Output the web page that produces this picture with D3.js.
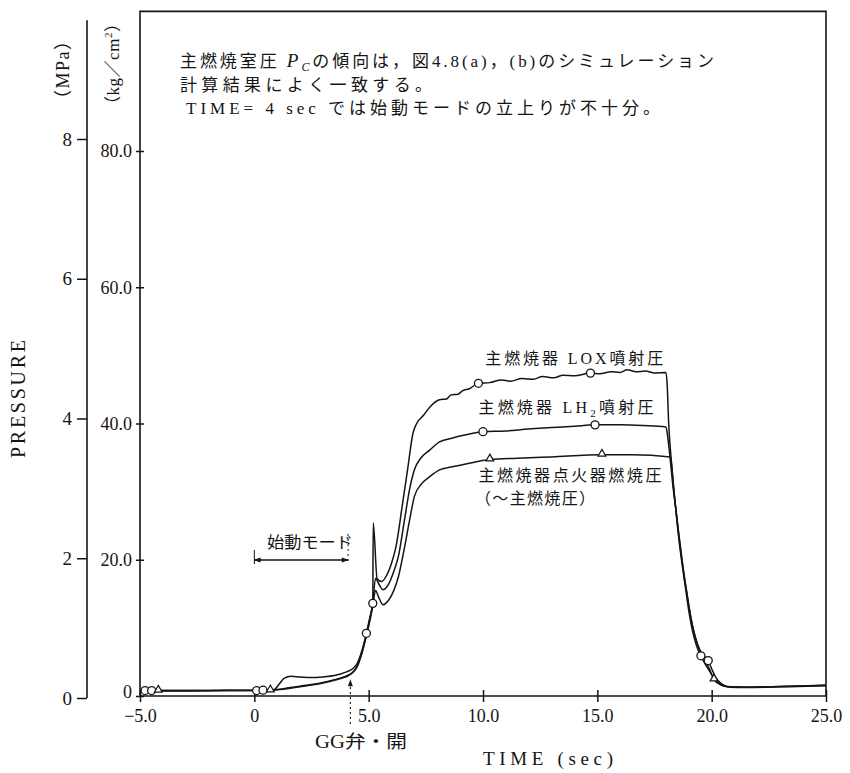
<!DOCTYPE html>
<html>
<head>
<meta charset="utf-8">
<script src="https://cdn.jsdelivr.net/npm/d3@7/dist/d3.min.js"></script>
<style>
  body { margin: 0; background: #fff; }
  svg text { font-family: "Liberation Serif", "Noto Sans CJK JP", serif; fill: #151515; }
</style>
</head>
<body>
<svg id="chart" width="850" height="773"></svg>
<script>
// ---- axis ticks ----
const timeTicks = [-5, 0, 5, 10, 15, 20, 25];
const timeTickLabels = ["\u22125.0", "0", "5.0", "10.0", "15.0", "20.0", "25.0"];
const kgTicks = [0, 20, 40, 60, 80];
const kgTickLabels = ["0", "20.0", "40.0", "60.0", "80.0"];
const mpaTicks = [0, 2, 4, 6, 8];
const mpaTickLabels = ["0", "2", "4", "6", "8"];

// ---- main combustor LOX injection pressure (kg/cm2) ----
const loxTime = [-5, -3, -1, 0, 0.7, 0.9, 1.1, 1.3, 1.6, 2.0, 2.5, 3.0, 3.5, 4.0, 4.3, 4.5, 4.7, 4.9, 5.05, 5.18,
  5.2, 5.37, 5.56, 5.8, 6.0, 6.2, 6.45, 6.7, 6.94, 7.1, 7.4, 7.67, 8.1, 8.4, 8.6, 8.9, 9.1, 9.4, 9.8,
  10.3, 10.8, 11.2, 11.7, 12.2, 12.6, 13.1, 13.5, 14.0, 14.7, 15.1, 15.6, 16.0, 16.3, 16.7, 17.1, 17.5, 18.0,
  18.05, 18.12, 18.25, 18.4, 18.55, 18.7, 18.85, 19.0, 19.2, 19.4, 19.53, 19.7, 19.9, 20.1, 20.3, 20.5, 20.8,
  21.5, 23.0, 24.5, 25.0];
const loxPressure = [0.8, 0.8, 0.8, 0.8, 0.8, 1.0, 1.8, 2.6, 2.9, 2.8, 2.7, 2.8, 3.0, 3.5, 4.0, 4.8, 6.6, 9.2, 11.5, 13.6,
  25.4, 17.2, 16.8, 17.8, 19.5, 22.0, 27.5, 33.2, 38.6, 40.0, 41.2, 42.4, 43.5, 43.6, 44.2, 44.3, 44.8, 45.1, 45.9,
  46.0, 46.4, 46.2, 46.6, 46.5, 46.9, 46.7, 47.1, 47.0, 47.4, 47.3, 47.6, 47.5, 47.9, 47.6, 47.7, 47.4, 47.5,
  46.0, 40.0, 34.0, 28.5, 23.5, 19.5, 16.0, 12.5, 9.0, 6.8, 5.9, 4.8, 3.7, 2.6, 1.9, 1.5, 1.35,
  1.3, 1.4, 1.55, 1.6];

// ---- main combustor LH2 injection pressure (kg/cm2) ----
const lh2Time = [-5, -3, -1, 0, 0.7, 1.0, 1.5, 2.0, 2.5, 3.0, 3.5, 4.0, 4.3, 4.5, 4.7, 4.9, 5.05, 5.18,
  5.3, 5.45, 5.63, 5.9, 6.1, 6.3, 6.55, 6.8, 7.0, 7.3, 7.67, 8.1, 8.6, 9.2, 10.0, 11.0, 12.0, 13.0, 14.0,
  14.9, 16.0, 17.0, 18.0,
  18.08, 18.18, 18.3, 18.45, 18.6, 18.75, 18.9, 19.05, 19.25, 19.45, 19.65, 19.85, 20.0, 20.15, 20.35, 20.55, 20.8,
  21.5, 23.0, 24.5, 25.0];
const lh2Pressure = [0.8, 0.8, 0.85, 0.85, 0.85, 0.95, 1.2, 1.45, 1.7, 2.0, 2.4, 2.9, 3.5, 4.4, 6.4, 9.0, 11.3, 13.6,
  17.3, 16.4, 15.6, 16.6, 18.3, 20.5, 25.5, 30.5, 33.2, 35.0, 36.1, 37.3, 37.8, 38.3, 38.8, 38.9, 39.2, 39.4, 39.6,
  39.8, 39.8, 39.7, 39.5,
  38.0, 35.0, 31.0, 27.0, 22.5, 18.8, 15.5, 12.3, 9.0, 7.0, 5.9, 5.2, 4.0, 2.9, 2.0, 1.55, 1.35,
  1.3, 1.4, 1.5, 1.55];

// ---- main combustor igniter combustion pressure (kg/cm2) ----
const ignTime = [-5, -3, -1, 0, 0.7, 1.0, 1.5, 2.0, 2.5, 3.0, 3.5, 4.0, 4.3, 4.5, 4.7, 4.9, 5.05, 5.18,
  5.3, 5.45, 5.63, 5.9, 6.1, 6.3, 6.55, 6.8, 7.0, 7.3, 7.67, 8.1, 8.6, 9.3, 10.3, 11.5, 13.0, 15.2, 16.5, 18.2,
  18.27, 18.35, 18.5, 18.65, 18.8, 18.95, 19.1, 19.3, 19.5, 19.7, 19.9, 20.1, 20.3, 20.55, 20.8,
  21.5, 23.0, 24.5, 25.0];
const ignPressure = [0.75, 0.75, 0.8, 0.8, 0.8, 0.9, 1.1, 1.35, 1.6, 1.9, 2.3, 2.8, 3.4, 4.3, 6.2, 8.8, 11.0, 13.2,
  15.5, 14.4, 13.4, 14.2, 15.5, 17.5, 21.5, 26.0, 29.3, 31.1, 32.2, 33.2, 33.6, 34.1, 34.7, 34.9, 35.1, 35.4, 35.4, 35.1,
  33.0, 30.0, 25.5, 21.5, 17.5, 14.3, 11.3, 8.5, 6.5, 5.2, 4.0, 2.4, 1.8, 1.45, 1.3,
  1.25, 1.35, 1.45, 1.5];

// ---- marker times on each trace ----
const loxMarkTimes = [-4.78, 0.1, 4.9, 9.8, 14.7, 19.53];
const lh2MarkTimes = [-4.49, 0.38, 5.18, 10.0, 14.9, 19.85];
const ignMarkTimes = [-4.2, 0.7, 10.3, 15.2, 20.1];

// ---- events ----
const startMode = [0, 4.1];
const ggValveTime = 4.2;

const svg = d3.select("#chart");
const ink = "#151515";

// scales: time, pressure in kg/cm2, pressure in MPa
const x = d3.scaleLinear().domain([-5, 25]).range([140, 826]);
const y = d3.scaleLinear().domain([0, 80]).range([696, 151]);
const yMpa = d3.scaleLinear().domain([0, 8]).range([698, 139]);
const frameTop = y(100.5);

// frame: kg axis line, top border, right border, time axis
svg.append("path")
  .attr("d", `M${x(-5)},${y(0)}V${frameTop}H${x(25)}V${y(0)}H${x(-5)}`)
  .attr("fill", "none").attr("stroke", ink).attr("stroke-width", 1.6);

// MPa axis line
svg.append("line")
  .attr("x1", 87).attr("x2", 87).attr("y1", yMpa(9.7)).attr("y2", yMpa(0))
  .attr("stroke", ink).attr("stroke-width", 1.6);

function styleAxis(g, size) {
  g.select(".domain").remove();
  g.selectAll("line").attr("stroke", ink).attr("stroke-width", 1.5);
  g.selectAll("text").attr("font-family", "Liberation Serif, serif")
    .attr("font-size", size).attr("fill", ink);
  g.attr("font-family", null).attr("font-size", null);
}

// time axis with crossing ticks
const gx = svg.append("g").attr("transform", `translate(0,${y(0)})`)
  .call(d3.axisBottom(x).tickValues(timeTicks)
    .tickFormat((d, i) => timeTickLabels[i]).tickSize(6).tickPadding(7));
gx.selectAll(".tick line").attr("y1", -6);
styleAxis(gx, 18);

// kg/cm2 axis with crossing ticks
const gy = svg.append("g").attr("transform", `translate(${x(-5)},0)`)
  .call(d3.axisLeft(y).tickValues(kgTicks)
    .tickFormat((d, i) => kgTickLabels[i]).tickSize(4).tickPadding(4));
gy.selectAll(".tick line").attr("x1", 4);
styleAxis(gy, 18);
// the zero label sits just above the time axis labels
gy.selectAll(".tick text").filter(d => d === 0).attr("dy", "0.1em");

// MPa axis, ticks to the left
const gm = svg.append("g").attr("transform", "translate(87,0)")
  .call(d3.axisLeft(yMpa).tickValues(mpaTicks)
    .tickFormat((d, i) => mpaTickLabels[i]).tickSize(10).tickPadding(5));
styleAxis(gm, 19);

// pressure traces
const series = [
  { t: loxTime, p: loxPressure, marks: loxMarkTimes, shape: "circle" },
  { t: lh2Time, p: lh2Pressure, marks: lh2MarkTimes, shape: "circle" },
  { t: ignTime, p: ignPressure, marks: ignMarkTimes, shape: "triangle" }
];

const line = d3.line().x(d => x(d[0])).y(d => y(d[1])).curve(d3.curveMonotoneX);

function valueAt(ts, ps, t) {
  const i = Math.min(Math.max(d3.bisectRight(ts, t), 1), ts.length - 1);
  const f = (t - ts[i - 1]) / (ts[i] - ts[i - 1]);
  return ps[i - 1] + f * (ps[i] - ps[i - 1]);
}

series.forEach(s => {
  svg.append("path")
    .datum(s.t.map((t, i) => [t, s.p[i]]))
    .attr("d", line)
    .attr("fill", "none").attr("stroke", ink).attr("stroke-width", 1.5)
    .attr("stroke-linejoin", "round");
});

series.forEach(s => {
  const pts = s.marks.map(t => [t, valueAt(s.t, s.p, t)]);
  if (s.shape === "circle") {
    svg.selectAll(null).data(pts).enter().append("circle")
      .attr("cx", d => x(d[0])).attr("cy", d => y(d[1])).attr("r", 4)
      .attr("fill", "#fff").attr("stroke", ink).attr("stroke-width", 1.3);
  } else {
    svg.selectAll(null).data(pts).enter().append("path")
      .attr("d", d3.symbol().type(d3.symbolTriangle).size(26))
      .attr("transform", d => `translate(${x(d[0])},${y(d[1]) - 1})`)
      .attr("fill", "#fff").attr("stroke", ink).attr("stroke-width", 1.2);
  }
});

// arrowheads
const defs = svg.append("defs");
defs.append("marker").attr("id", "arr").attr("viewBox", "0 0 10 10")
  .attr("refX", 9).attr("refY", 5).attr("markerWidth", 9).attr("markerHeight", 7)
  .attr("markerUnits", "userSpaceOnUse").attr("orient", "auto-start-reverse")
  .append("path").attr("d", "M0,1.5L10,5L0,8.5Z").attr("fill", ink);

// start-mode span
const smY = 560;
svg.append("line")
  .attr("x1", x(startMode[0])).attr("x2", x(startMode[1]))
  .attr("y1", smY).attr("y2", smY)
  .attr("stroke", ink).attr("stroke-width", 1.3)
  .attr("marker-start", "url(#arr)").attr("marker-end", "url(#arr)");
svg.append("line")
  .attr("x1", x(startMode[0])).attr("x2", x(startMode[0]))
  .attr("y1", smY - 10).attr("y2", smY + 4)
  .attr("stroke", ink).attr("stroke-width", 1);
svg.append("line")
  .attr("x1", x(startMode[1])).attr("x2", x(startMode[1]))
  .attr("y1", smY - 26).attr("y2", smY + 2)
  .attr("stroke", ink).attr("stroke-width", 1).attr("stroke-dasharray", "2,3");
svg.append("text").attr("x", 267).attr("y", 548)
  .attr("font-size", 16).attr("textLength", 86).attr("lengthAdjust", "spacingAndGlyphs")
  .text("始動モード");

// GG valve opening marker
svg.append("line")
  .attr("x1", x(ggValveTime)).attr("x2", x(ggValveTime))
  .attr("y1", 724).attr("y2", 680)
  .attr("stroke", ink).attr("stroke-width", 1.1).attr("stroke-dasharray", "2,3")
  .attr("marker-end", "url(#arr)");
svg.append("text").attr("x", 315).attr("y", 748)
  .attr("font-size", 18).attr("textLength", 92).attr("lengthAdjust", "spacingAndGlyphs")
  .text("GG弁・開");

// trace labels
svg.append("text").attr("x", x(10.1)).attr("y", 364)
  .attr("font-size", 16).attr("textLength", 178).attr("lengthAdjust", "spacing")
  .text("主燃焼器 LOX噴射圧");
const lh2Label = svg.append("text").attr("x", x(9.8)).attr("y", 413)
  .attr("font-size", 16).attr("textLength", 175).attr("lengthAdjust", "spacing");
lh2Label.append("tspan").text("主燃焼器 LH");
lh2Label.append("tspan").attr("font-size", 11).attr("dy", 4).text("2");
lh2Label.append("tspan").attr("dy", -4).text("噴射圧");
svg.append("text").attr("x", x(9.8)).attr("y", 481)
  .attr("font-size", 16).attr("textLength", 183).attr("lengthAdjust", "spacing")
  .text("主燃焼器点火器燃焼圧");
svg.append("text").attr("x", x(9.65)).attr("y", 504)
  .attr("font-size", 16).attr("textLength", 120).attr("lengthAdjust", "spacing")
  .text("（～主燃焼圧）");

// commentary block
const note1 = svg.append("text").attr("x", 180).attr("y", 67)
  .attr("font-size", 17).attr("textLength", 534).attr("lengthAdjust", "spacing");
note1.append("tspan").text("主燃焼室圧 ");
note1.append("tspan").attr("font-style", "italic").attr("font-size", 19).text("P");
note1.append("tspan").attr("font-style", "italic").attr("font-size", 12).attr("dy", 4).text("C");
note1.append("tspan").attr("dy", -4).text("の傾向は，図4.8(a)，(b)のシミュレーション");
svg.append("text").attr("x", 180).attr("y", 91)
  .attr("font-size", 17).attr("textLength", 252).attr("lengthAdjust", "spacing")
  .text("計算結果によく一致する。");
svg.append("text").attr("x", 186).attr("y", 114)
  .attr("font-size", 17).attr("textLength", 474).attr("lengthAdjust", "spacing")
  .text("TIME= 4 sec では始動モードの立上りが不十分。");

// axis titles
svg.append("text").attr("transform", "translate(25,399) rotate(-90)")
  .attr("text-anchor", "middle").attr("font-size", 20)
  .attr("textLength", 118).attr("lengthAdjust", "spacing").text("PRESSURE");
svg.append("text").attr("transform", "translate(69,70) rotate(-90)")
  .attr("text-anchor", "middle").attr("font-size", 18)
  .attr("textLength", 76).attr("lengthAdjust", "spacing").text("（MPa）");
const kgTitle = svg.append("text").attr("transform", "translate(119,64) rotate(-90)")
  .attr("text-anchor", "middle").attr("font-size", 17)
  .attr("textLength", 98).attr("lengthAdjust", "spacing");
kgTitle.append("tspan").text("（kg／cm");
kgTitle.append("tspan").attr("font-size", 11).attr("dy", -7).text("2");
kgTitle.append("tspan").attr("dy", 7).text("）");
svg.append("text").attr("x", 483).attr("y", 765)
  .attr("font-size", 19).attr("textLength", 130).attr("lengthAdjust", "spacing")
  .text("TIME (sec)");
</script>
</body>
</html>
